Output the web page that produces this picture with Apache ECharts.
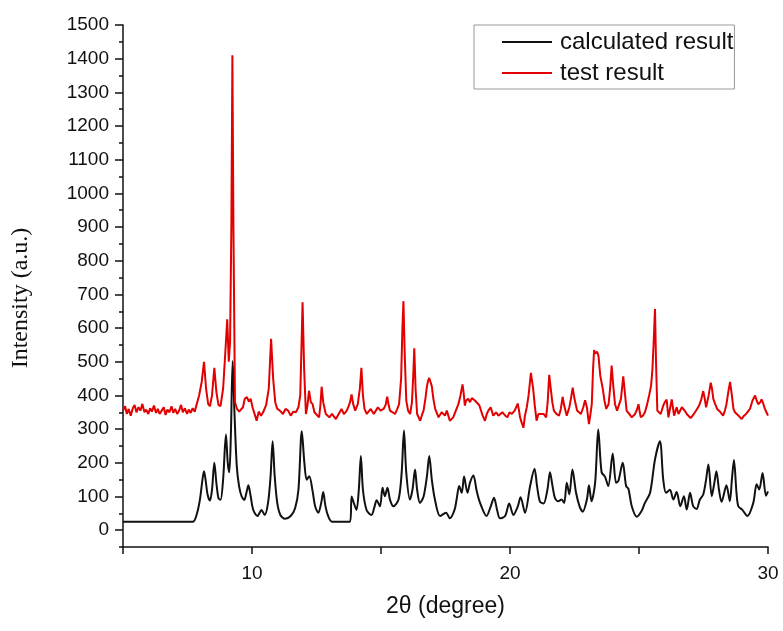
<!DOCTYPE html>
<html>
<head>
<meta charset="utf-8">
<script src="https://cdn.jsdelivr.net/npm/echarts@6/dist/echarts.min.js"></script>
<style>html,body{margin:0;padding:0;background:#fff;}#c{width:783px;height:631px;}</style>
</head>
<body>
<div id="c"></div>
<script>
var seriesNames = ['calculated result', 'test result'];
var xTickLabels = [10, 20, 30];
var yTickLabels = [0,100,200,300,400,500,600,700,800,900,1000,1100,1200,1300,1400,1500];
var yMinorTicks = [-50,50,150,250,350,450,550,650,750,850,950,1050,1150,1250,1350,1450];

var calculated = [
[5,25],[7.7,25],[7.85,45],[7.98,90],[8.08,150],[8.14,175],[8.2,150],[8.28,105],[8.37,88],[8.45,120],[8.54,200],[8.62,140],[8.7,95],[8.78,90],[8.88,150],[8.99,284],[9.06,200],[9.12,172],[9.18,280],[9.25,502],[9.32,350],[9.41,190],[9.5,130],[9.6,100],[9.7,90],[9.78,110],[9.86,133],[9.95,100],[10.05,60],[10.21,42],[10.37,60],[10.49,45],[10.62,80],[10.72,160],[10.8,264],[10.88,160],[10.98,80],[11.1,45],[11.28,34],[11.5,42],[11.67,65],[11.8,120],[11.93,294],[12.03,200],[12.12,150],[12.22,160],[12.35,115],[12.45,70],[12.57,52],[12.68,80],[12.76,113],[12.85,70],[12.96,40],[13.1,25],[13.8,25],[13.86,100],[13.95,80],[14.05,60],[14.14,120],[14.22,220],[14.3,120],[14.44,60],[14.63,45],[14.75,70],[14.83,89],[14.96,71],[15.06,126],[15.15,101],[15.25,126],[15.35,90],[15.48,71],[15.68,91],[15.8,170],[15.89,296],[15.98,170],[16.12,91],[16.22,120],[16.32,180],[16.4,120],[16.51,81],[16.65,100],[16.78,160],[16.87,220],[16.97,150],[17.09,91],[17.29,42],[17.52,52],[17.67,35],[17.85,60],[17.93,91],[18.03,131],[18.13,111],[18.22,159],[18.35,111],[18.45,141],[18.58,162],[18.71,116],[18.84,81],[19.09,42],[19.25,70],[19.38,96],[19.5,60],[19.61,35],[19.81,42],[19.97,79],[20.13,45],[20.3,70],[20.41,98],[20.58,52],[20.78,131],[20.95,182],[21.05,130],[21.16,85],[21.3,79],[21.45,120],[21.55,172],[21.65,130],[21.74,96],[21.87,86],[22.0,91],[22.1,81],[22.2,141],[22.3,106],[22.42,180],[22.56,111],[22.7,70],[22.82,55],[22.98,91],[23.06,133],[23.16,86],[23.3,141],[23.42,299],[23.55,172],[23.68,159],[23.81,131],[23.98,228],[24.11,141],[24.2,146],[24.37,200],[24.5,131],[24.59,123],[24.72,71],[24.91,40],[25.1,57],[25.23,81],[25.43,111],[25.62,210],[25.81,264],[25.94,150],[26.05,111],[26.2,120],[26.33,91],[26.46,113],[26.6,71],[26.74,101],[26.85,61],[26.98,111],[27.1,71],[27.23,63],[27.36,91],[27.49,106],[27.6,150],[27.69,195],[27.82,101],[27.92,140],[28.0,175],[28.1,120],[28.2,84],[28.39,133],[28.52,86],[28.6,150],[28.68,208],[28.78,110],[28.85,71],[29.0,61],[29.2,42],[29.43,81],[29.56,136],[29.66,121],[29.79,170],[29.92,102],[30.0,115]
];

var test = [
[5.0,355],[5.08,368],[5.15,345],[5.22,360],[5.3,340],[5.38,362],[5.45,372],[5.52,350],[5.6,365],[5.68,355],[5.75,375],[5.83,350],[5.9,358],[5.98,345],[6.05,362],[6.12,352],[6.2,370],[6.28,348],[6.35,360],[6.42,345],[6.5,355],[6.58,365],[6.65,342],[6.72,358],[6.8,350],[6.88,368],[6.95,348],[7.02,360],[7.1,345],[7.18,356],[7.25,372],[7.32,350],[7.4,362],[7.48,345],[7.55,358],[7.62,348],[7.7,362],[7.78,352],[7.85,372],[7.95,400],[8.05,440],[8.14,500],[8.22,420],[8.3,375],[8.37,368],[8.45,400],[8.54,482],[8.62,410],[8.7,372],[8.78,368],[8.88,420],[8.96,520],[9.04,626],[9.1,500],[9.15,560],[9.2,900],[9.24,1410],[9.28,900],[9.34,380],[9.42,360],[9.5,352],[9.56,350],[9.65,365],[9.72,390],[9.8,395],[9.88,382],[9.95,390],[10.02,365],[10.12,340],[10.18,325],[10.26,352],[10.35,340],[10.43,350],[10.55,372],[10.65,420],[10.74,568],[10.82,450],[10.9,380],[10.98,360],[11.08,355],[11.2,345],[11.3,360],[11.4,355],[11.5,340],[11.6,352],[11.7,350],[11.8,365],[11.87,400],[11.92,550],[11.96,677],[12.02,480],[12.09,345],[12.15,370],[12.21,414],[12.28,380],[12.35,374],[12.42,350],[12.48,345],[12.6,335],[12.65,370],[12.7,426],[12.76,380],[12.86,345],[13.0,335],[13.1,345],[13.25,330],[13.36,345],[13.47,360],[13.56,345],[13.65,352],[13.73,365],[13.8,380],[13.86,403],[13.92,375],[14.0,355],[14.1,374],[14.18,420],[14.24,482],[14.3,400],[14.36,360],[14.45,345],[14.6,360],[14.72,345],[14.8,355],[14.88,365],[14.98,355],[15.1,360],[15.18,372],[15.24,396],[15.3,370],[15.35,355],[15.45,350],[15.54,345],[15.62,358],[15.7,374],[15.78,450],[15.83,600],[15.87,680],[15.92,520],[15.98,384],[16.05,355],[16.13,345],[16.2,380],[16.25,460],[16.29,540],[16.34,420],[16.4,345],[16.52,325],[16.6,345],[16.65,355],[16.72,390],[16.78,427],[16.83,445],[16.87,452],[16.92,440],[16.97,427],[17.03,390],[17.1,360],[17.23,335],[17.35,350],[17.48,340],[17.55,355],[17.67,325],[17.8,335],[17.9,355],[18.0,374],[18.08,400],[18.16,433],[18.2,410],[18.25,370],[18.3,385],[18.38,390],[18.45,380],[18.52,392],[18.58,397],[18.64,385],[18.7,380],[18.81,371],[18.94,340],[19.03,325],[19.1,345],[19.16,355],[19.25,365],[19.35,340],[19.46,350],[19.55,340],[19.61,335],[19.7,350],[19.74,345],[19.82,340],[19.9,335],[19.98,350],[20.07,345],[20.18,355],[20.3,376],[20.36,350],[20.39,335],[20.45,320],[20.52,304],[20.58,340],[20.65,365],[20.72,400],[20.81,467],[20.86,440],[20.9,418],[20.96,370],[21.03,325],[21.1,345],[21.16,340],[21.3,345],[21.4,335],[21.46,380],[21.52,461],[21.58,420],[21.64,380],[21.7,355],[21.8,345],[21.9,340],[21.97,360],[22.04,396],[22.1,370],[22.2,340],[22.3,365],[22.36,390],[22.43,423],[22.5,390],[22.6,355],[22.75,345],[22.84,365],[22.91,386],[22.98,365],[23.06,315],[23.12,345],[23.17,374],[23.22,480],[23.26,535],[23.3,525],[23.34,522],[23.38,530],[23.43,517],[23.5,458],[23.6,418],[23.66,385],[23.73,360],[23.82,374],[23.88,420],[23.94,489],[24.0,430],[24.07,374],[24.15,355],[24.2,350],[24.3,390],[24.39,457],[24.45,410],[24.52,355],[24.62,345],[24.72,335],[24.85,345],[24.93,360],[24.98,374],[25.03,350],[25.07,335],[25.15,340],[25.23,350],[25.32,375],[25.4,403],[25.47,430],[25.52,477],[25.57,560],[25.62,657],[25.66,500],[25.71,355],[25.78,350],[25.84,345],[25.9,360],[25.94,370],[26.0,380],[26.07,388],[26.14,335],[26.2,360],[26.27,388],[26.36,340],[26.46,365],[26.53,345],[26.6,350],[26.66,365],[26.72,360],[26.8,352],[26.85,345],[26.92,340],[27.0,333],[27.08,340],[27.17,350],[27.25,360],[27.33,370],[27.42,390],[27.49,413],[27.55,390],[27.6,365],[27.7,400],[27.78,438],[27.83,420],[27.88,390],[27.95,375],[28.03,360],[28.1,355],[28.16,350],[28.26,340],[28.33,355],[28.39,374],[28.46,410],[28.53,440],[28.6,400],[28.66,360],[28.72,350],[28.79,345],[28.88,338],[28.98,330],[29.07,340],[29.15,345],[29.22,352],[29.3,360],[29.4,385],[29.5,400],[29.56,385],[29.62,374],[29.7,380],[29.75,388],[29.82,375],[29.88,360],[29.94,350],[30.0,340]
];

var chart = echarts.init(document.getElementById('c'), null, {renderer: 'canvas'});
var axisColor = '#111';
var sans = 'Liberation Sans, Arial, sans-serif';
chart.setOption({
  animation: false,
  backgroundColor: '#fff',
  grid: {left: 123, right: 15, top: 25, bottom: 84, containLabel: false},
  legend: {
    orient: 'vertical',
    left: 474, top: 25,
    padding: [4, 1, 3, 28],
    itemGap: 5,
    itemWidth: 50, itemHeight: 2,
    icon: 'rect',
    borderColor: '#999', borderWidth: 1,
    textStyle: {fontFamily: sans, fontSize: 24, color: '#111', lineHeight: 26, padding: [0, 0, 0, 3]},
    data: seriesNames
  },
  xAxis: {
    type: 'value', min: 5, max: 30, interval: 5,
    name: '2\u03b8 (degree)', nameLocation: 'middle', nameGap: 48,
    nameTextStyle: {fontFamily: sans, fontSize: 23, color: '#111'},
    axisLine: {show: true, onZero: false, lineStyle: {color: axisColor, width: 1.5}},
    axisTick: {show: true, inside: false, length: 7, lineStyle: {color: axisColor, width: 1.5}},
    axisLabel: {
      margin: 17, fontFamily: sans, fontSize: 19, color: '#111',
      formatter: function (v) { return xTickLabels.indexOf(v) >= 0 ? String(v) : ''; }
    },
    splitLine: {show: false}
  },
  yAxis: [{
    type: 'value', min: -50, max: 1500, interval: 50,
    name: 'Intensity (a.u.)', nameLocation: 'middle', nameGap: 90,
    nameTextStyle: {fontFamily: 'Liberation Serif, Times New Roman, serif', fontSize: 24, color: '#111', padding: [0, 0, 0, -24]},
    axisLine: {show: true, onZero: false, lineStyle: {color: axisColor, width: 1.5}},
    axisTick: {show: true, length: 8, customValues: yTickLabels, lineStyle: {color: axisColor, width: 1.5}},
    axisLabel: {margin: 14, customValues: yTickLabels, fontFamily: sans, fontSize: 19, color: '#111',
      formatter: function (v) { return String(v); }},
    splitLine: {show: false}
  }, {
    type: 'value', min: -50, max: 1500, interval: 50, position: 'left',
    axisLine: {show: false},
    axisTick: {show: true, length: 4, customValues: yMinorTicks, lineStyle: {color: axisColor, width: 1.5}},
    axisLabel: {show: false},
    splitLine: {show: false}
  }],
  series: [{
    name: seriesNames[0], type: 'line', data: calculated, yAxisIndex: 0,
    showSymbol: false, smooth: 0.3, color: '#111',
    lineStyle: {color: '#111', width: 2}
  }, {
    name: seriesNames[1], type: 'line', data: test, yAxisIndex: 0,
    showSymbol: false, smooth: false, color: '#e30000',
    lineStyle: {color: '#e30000', width: 2}
  }]
});
</script>
</body>
</html>
